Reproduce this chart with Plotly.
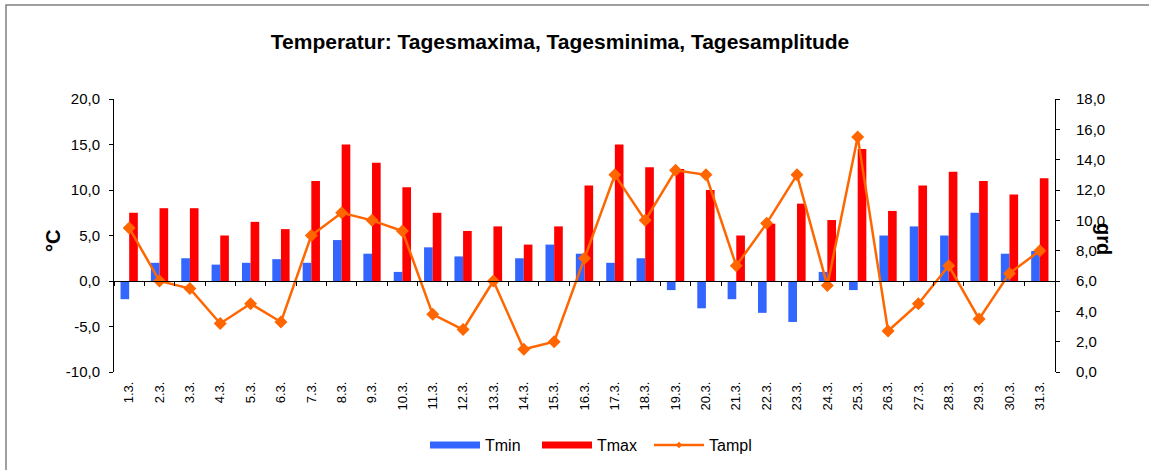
import plotly.graph_objects as go

days = ["1.3.", "2.3.", "3.3.", "4.3.", "5.3.", "6.3.", "7.3.", "8.3.", "9.3.", "10.3.",
        "11.3.", "12.3.", "13.3.", "14.3.", "15.3.", "16.3.", "17.3.", "18.3.", "19.3.", "20.3.",
        "21.3.", "22.3.", "23.3.", "24.3.", "25.3.", "26.3.", "27.3.", "28.3.", "29.3.", "30.3.", "31.3."]
tmin = [-2.0, 2.0, 2.5, 1.8, 2.0, 2.4, 2.0, 4.5, 3.0, 1.0,
        3.7, 2.7, 0.0, 2.5, 4.0, 3.0, 2.0, 2.5, -1.0, -3.0,
        -2.0, -3.5, -4.5, 1.0, -1.0, 5.0, 6.0, 5.0, 7.5, 3.0, 3.3]
tmax = [7.5, 8.0, 8.0, 5.0, 6.5, 5.7, 11.0, 15.0, 13.0, 10.3,
        7.5, 5.5, 6.0, 4.0, 6.0, 10.5, 15.0, 12.5, 12.3, 10.0,
        5.0, 6.3, 8.5, 6.7, 14.5, 7.7, 10.5, 12.0, 11.0, 9.5, 11.3]
tampl = [9.5, 6.0, 5.5, 3.2, 4.5, 3.3, 9.0, 10.5, 10.0, 9.3,
         3.8, 2.8, 6.0, 1.5, 2.0, 7.5, 13.0, 10.0, 13.3, 13.0,
         7.0, 9.8, 13.0, 5.7, 15.5, 2.7, 4.5, 7.0, 3.5, 6.5, 8.0]

left_tickvals = [-10, -5, 0, 5, 10, 15, 20]
left_ticktext = ["-10,0", "-5,0", "0,0", "5,0", "10,0", "15,0", "20,0"]
right_tickvals = [0, 2, 4, 6, 8, 10, 12, 14, 16, 18]
right_ticktext = ["0,0", "2,0", "4,0", "6,0", "8,0", "10,0", "12,0", "14,0", "16,0", "18,0"]

BLUE = "#3366FF"
RED = "#FF0000"
ORANGE = "#FF6600"
FONT = "Arial, 'Liberation Sans', sans-serif"

fig = go.Figure()
fig.add_trace(go.Bar(x=days, y=tmin, name="Tmin", marker=dict(color=BLUE, line=dict(width=0)),
                     showlegend=False, xaxis="x", yaxis="y"))
fig.add_trace(go.Bar(x=days, y=tmax, name="Tmax", marker=dict(color=RED, line=dict(width=0)),
                     showlegend=False, xaxis="x", yaxis="y"))
fig.add_trace(go.Scatter(x=days, y=tampl, name="Tampl", mode="lines+markers",
                         line=dict(color=ORANGE, width=2.5),
                         marker=dict(symbol="diamond", size=10, color=ORANGE),
                         showlegend=False, xaxis="x2", yaxis="y2"))
# legend entries
fig.add_trace(go.Scatter(x=[None], y=[None], mode="lines", name="Tmin",
                         line=dict(color=BLUE, width=7)))
fig.add_trace(go.Scatter(x=[None], y=[None], mode="lines", name="Tmax",
                         line=dict(color=RED, width=7)))
fig.add_trace(go.Scatter(x=[None], y=[None], mode="lines+markers", name="Tampl",
                         line=dict(color=ORANGE, width=2.5),
                         marker=dict(symbol="diamond", size=5, color=ORANGE)))

L, R, T, B = 114, 94, 99, 98
W, H = 1149, 470
pw = W - L - R
ph = H - T - B

fig.update_layout(
    width=W, height=H,
    margin=dict(l=L, r=R, t=T, b=B, pad=0, autoexpand=False),
    paper_bgcolor="white", plot_bgcolor="white",
    font=dict(family=FONT, color="#000000"),
    separators=",.",
    barmode="group", bargap=0.43, bargroupgap=0,
    title=dict(text="<b>Temperatur: Tagesmaxima, Tagesminima, Tagesamplitude</b>",
               x=560 / W, xanchor="center", xref="container",
               y=1 - 42 / H, yanchor="middle", yref="container",
               font=dict(size=21, family=FONT, color="#000000")),
    xaxis=dict(type="category", range=[-0.5, 30.5], showline=False, ticks="",
               showgrid=False, zeroline=False, tickangle=-90, automargin=False,
               tickfont=dict(size=13), ticklabelstandoff=6),
    xaxis2=dict(type="category", overlaying="x", anchor="free", position=1 / 3,
                range=[-0.5, 30.5], showline=True, linecolor="#000000", linewidth=1,
                ticks="outside", ticklen=4, tickcolor="#000000", tickson="boundaries",
                showticklabels=False, showgrid=False, zeroline=False, automargin=False),
    yaxis=dict(range=[-10, 20], tickmode="array", tickvals=left_tickvals,
               ticktext=left_ticktext, showline=True,
               linecolor="#000000", linewidth=1, ticks="outside", ticklen=4,
               tickcolor="#000000", showgrid=False, zeroline=False, automargin=False,
               tickfont=dict(size=15), ticklabelstandoff=6),
    yaxis2=dict(range=[0, 18], tickmode="array", tickvals=right_tickvals,
                ticktext=right_ticktext, overlaying="y", side="right",
                anchor="x2", showline=True, linecolor="#000000", linewidth=1,
                ticks="outside", ticklen=4, tickcolor="#000000", showgrid=False,
                automargin=False,
                zeroline=False, tickfont=dict(size=15), ticklabelstandoff=13),
    legend=dict(orientation="h", x=(425 - L) / pw, xref="paper", xanchor="left",
                y=(372 - 445) / ph, yanchor="middle", font=dict(size=16),
                itemwidth=50, entrywidth=47, entrywidthmode="pixels",
                bgcolor="rgba(0,0,0,0)", traceorder="normal"),
    showlegend=True,
    annotations=[
        dict(text="<b>°C</b>", xref="paper", yref="paper", x=(53 - L) / pw,
             y=(372 - 241) / ph, showarrow=False, textangle=-90,
             font=dict(size=20, family=FONT, color="#000000"),
             xanchor="center", yanchor="middle"),
        dict(text="<b>grd</b>", xref="paper", yref="paper", x=(1104 - L) / pw,
             y=(372 - 239) / ph, showarrow=False, textangle=90,
             font=dict(size=20, family=FONT, color="#000000"),
             xanchor="center", yanchor="middle"),
    ],
    shapes=[
        dict(type="rect", xref="paper", yref="paper",
             x0=(6 - L) / pw, x1=(1170 - L) / pw,
             y0=(372 - 490) / ph, y1=(372 - 5) / ph,
             line=dict(color="#808080", width=1.5), fillcolor="rgba(0,0,0,0)",
             layer="below"),
    ],
)

fig.write_html("out.html", config={"displayModeBar": False},
               post_script="document.body.style.margin='0px';document.body.style.overflow='hidden';")
